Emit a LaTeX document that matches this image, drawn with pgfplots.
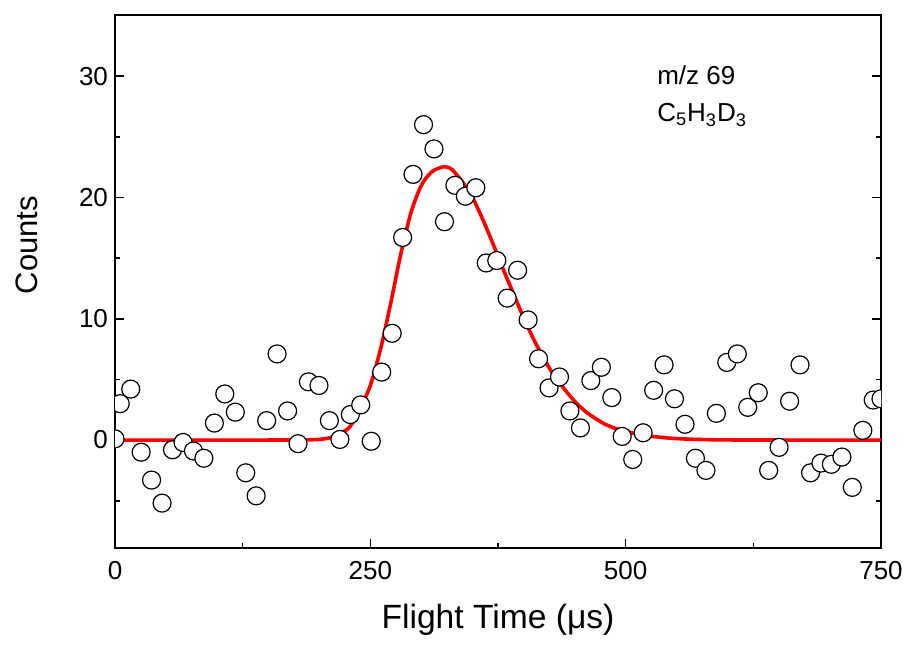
\documentclass[border=0pt]{standalone}
\usepackage{fontspec}
\setmainfont{Liberation Sans}
\usepackage{pgfplots}
\pgfplotsset{compat=1.18}

\begin{document}
\begin{tikzpicture}
\begin{axis}[
    scale only axis,
    width=383pt, height=266.5pt,
    xmin=0, xmax=750,
    ymin=-8.9, ymax=35.04,
    xtick={0,250,500,750},
    minor xtick={125,375,625},
    ytick={0,10,20,30},
    minor ytick={-5,5,15,25},
    xtick pos=bottom,
    ytick pos=both,
    tick align=inside,
    major tick length=4.5pt,
    minor tick length=2.5pt,
    axis line style={line width=0.9pt},
    every tick/.style={black, line width=0.8pt},
    /pgf/number format/assume math mode=true,
    ticklabel style={font=\fontsize{13}{15}\selectfont},
    xticklabel style={yshift=-3pt},
    xlabel={Flight Time (μs)},
    ylabel={Counts},
    xlabel style={font=\fontsize{16.8}{19}\selectfont,
                  at={(axis description cs:0.5,-0.135)},anchor=center},
    ylabel style={font=\fontsize{15.5}{18}\selectfont,
                  at={(axis description cs:-0.115,0.568)},anchor=center},
    clip marker paths=true,
]
% fit curve
\addplot[red, line width=1.8pt, smooth] coordinates {
  (0,0) (150,0) (190,0.02) (205,0.1) (215,0.3) (222,0.6) (230,1.1)
  (240,2.6) (250,4.5) (260,7.5) (270,11.3) (280,15.4) (290,18.8)
  (300,21.0) (310,22.1) (320,22.5) (325,22.5) (330,22.3) (340,21.3)
  (350,20.0) (360,18.2) (370,16.2) (380,14.1) (390,12.1) (400,10.1)
  (410,8.3) (420,6.7) (430,5.3) (440,4.2) (450,3.2) (460,2.4) (470,1.8)
  (480,1.3) (490,0.95) (500,0.7) (520,0.37) (540,0.18) (560,0.08)
  (580,0.03) (600,0.01) (650,0) (750,0)
};
% measured counts
\addplot[only marks, mark=*, mark size=4.5pt,
         mark options={fill=white, draw=black, line width=0.6pt}] coordinates {
  (0,0.1)
  (5.1,3.0) (15.4,4.2) (25.6,-1.0) (35.8,-3.3) (46.1,-5.2) (56.3,-0.8)
  (66.6,-0.2) (76.8,-0.9) (87.0,-1.5) (97.3,1.4) (107.5,3.8) (117.8,2.3)
  (128.0,-2.7) (138.2,-4.6) (148.5,1.6) (158.7,7.1) (169.0,2.4) (179.2,-0.3)
  (189.4,4.8) (199.7,4.5) (209.9,1.6) (220.2,0.05) (230.4,2.1) (240.6,2.9)
  (250.9,-0.1) (261.1,5.6) (271.4,8.8) (281.6,16.7) (291.8,21.9) (302.1,26.0)
  (312.3,24.0) (322.6,18.0) (332.8,21.0) (343.0,20.1) (353.3,20.8) (363.5,14.6)
  (373.8,14.8) (384.0,11.7) (394.2,14.0) (404.5,9.9) (414.7,6.7) (425.0,4.3)
  (435.2,5.2) (445.4,2.4) (455.7,1.0) (465.9,4.9) (476.2,6.0) (486.4,3.5)
  (496.6,0.3) (506.9,-1.6) (517.1,0.6) (527.4,4.1) (537.6,6.2) (547.8,3.4)
  (558.1,1.3) (568.3,-1.5) (578.6,-2.5) (588.8,2.2) (599.0,6.4) (609.3,7.1)
  (619.5,2.7) (629.8,3.9) (640.0,-2.5) (650.2,-0.6) (660.5,3.2) (670.7,6.2)
  (681.0,-2.7) (691.2,-1.9) (701.4,-2.0) (711.7,-1.4) (721.9,-3.9) (732.2,0.8)
  (742.4,3.3) (750,3.4)
};
\node[anchor=west, font=\fontsize{13}{15}\selectfont] at (axis cs:524,30.1) {m/z 69};
\node[anchor=west, font=\fontsize{13}{15}\selectfont] at (axis cs:524,26.8)
  {C\textsubscript{5}H\textsubscript{3}D\textsubscript{3}};
\end{axis}
\pgfresetboundingbox
\useasboundingbox ([shift={(-57.5pt,-48pt)}]current axis.south west)
  rectangle ([shift={(14pt,7.5pt)}]current axis.north east);
\end{tikzpicture}
\end{document}
